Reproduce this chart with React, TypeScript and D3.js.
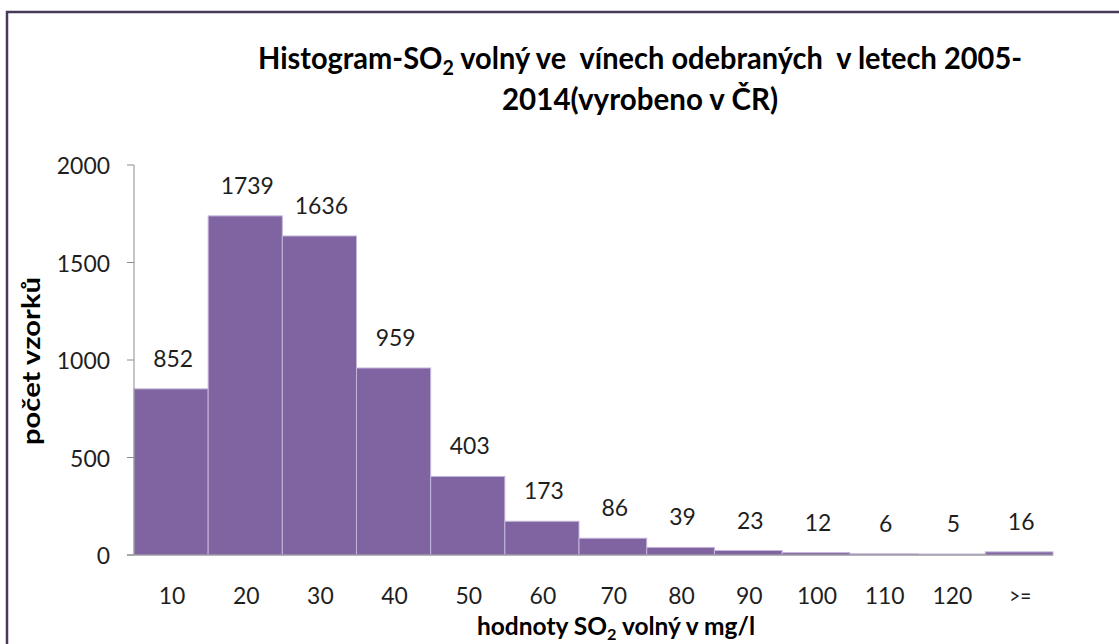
import React, { useLayoutEffect, useRef, useState } from "react";
import * as d3 from "d3";

const categories = ["10", "20", "30", "40", "50", "60", "70", "80", "90", "100", "110", "120", ">="];
const counts = [852, 1739, 1636, 959, 403, 173, 86, 39, 23, 12, 6, 5, 16];
const yTicks = [0, 500, 1000, 1500, 2000];

const W = 1119;
const H = 644;
const FONT = "Lato, 'Open Sans', sans-serif";

export default function App() {
  const xs = d3.scaleLinear().domain([0, 6, categories.length]).range([134, 579, 1053]);
  const y = d3.scaleLinear().domain([0, 2000]).range([555, 165]);
  const textColor = "#1e1e1e";

  const t1 = useRef<SVGTextElement>(null);
  const t2 = useRef<SVGTextElement>(null);
  const xt = useRef<SVGTextElement>(null);
  const [sc, setSc] = useState({ a: 0.85, b: 0.85, c: 0.85 });
  useLayoutEffect(() => {
    const w1 = t1.current ? t1.current.getBBox().width : 0;
    const w2 = t2.current ? t2.current.getBBox().width : 0;
    const w3 = xt.current ? xt.current.getBBox().width : 0;
    setSc({ a: w1 ? 764 / w1 : 0.85, b: w2 ? 276 / w2 : 0.85, c: w3 ? 278 / w3 : 0.85 });
  }, []);

  return (
    <svg width={W} height={H} style={{ position: "absolute", left: 0, top: 0, background: "#fff" }}>
      <rect x={7} y={12} width={1300} height={800} fill="#fff" stroke="#463a58" strokeWidth={2.5} />

      {/* Title */}
      <g transform={`translate(640,69) scale(${sc.a},1)`}>
        <text ref={t1} x={0} y={0} textAnchor="middle" fontFamily={FONT} fontWeight="bold" fontSize={31} fill="#000"
          style={{ whiteSpace: "pre" }}>
          Histogram-SO<tspan fontSize={21} dy={6}>2</tspan><tspan dy={-6}>{" volný ve  vínech odebraných  v letech 2005-"}</tspan>
        </text>
      </g>
      <g transform={`translate(640,110) scale(${sc.b},1)`}>
        <text ref={t2} x={0} y={0} textAnchor="middle" fontFamily={FONT} fontWeight="bold" fontSize={31} fill="#000">
          2014(vyrobeno v ČR)
        </text>
      </g>

      {/* Bars */}
      {counts.map((v, i) => (
        <rect key={i} x={xs(i)} y={y(v)} width={xs(i + 1) - xs(i)} height={y(0) - y(v)}
          fill="#8064a2" stroke="#c4b6da" strokeWidth={1} />
      ))}

      {/* Y axis */}
      <line x1={134} x2={134} y1={y(2000)} y2={y(0)} stroke="#8c8c8c" strokeWidth={1} />
      {yTicks.map((t) => (
        <g key={t}>
          <line x1={127} x2={134} y1={y(t)} y2={y(t)} stroke="#8c8c8c" strokeWidth={1} />
          <text x={110} y={y(t) + 9} textAnchor="end" fontFamily={FONT} fontSize={24} fill={textColor}
            textLength={String(t).length * 13.3} lengthAdjust="spacingAndGlyphs">{t}</text>
        </g>
      ))}
      <line x1={127} x2={xs(categories.length)} y1={y(0)} y2={y(0)} stroke="#8c8c8c" strokeWidth={1.2} />

      {/* X tick labels */}
      {categories.map((c, i) => (
        <text key={c} x={(xs(i) + xs(i + 1)) / 2 + 1} y={604} textAnchor="middle" fontFamily={FONT} fontSize={24} fill={textColor}
          textLength={c === ">=" ? 22 : c.length * 13.3} lengthAdjust="spacingAndGlyphs">{c}</text>
      ))}

      {/* Value labels */}
      {counts.map((v, i) => (
        <text key={i} x={(xs(i) + xs(i + 1)) / 2 + 2} y={y(v) - 22} textAnchor="middle" fontFamily={FONT} fontSize={24} fill={textColor}
          textLength={String(v).length * 13.3} lengthAdjust="spacingAndGlyphs">{v}</text>
      ))}

      {/* Axis titles */}
      <text transform={`translate(40,361) rotate(-90)`} textAnchor="middle" fontFamily={FONT} fontWeight="bold" fontSize={24} fill="#000"
        textLength={168} lengthAdjust="spacingAndGlyphs">počet vzorků</text>
      <g transform={`translate(616,635) scale(${sc.c},1)`}>
        <text ref={xt} x={0} y={0} textAnchor="middle" fontFamily={FONT} fontWeight="bold" fontSize={24} fill="#000">
          hodnoty SO<tspan fontSize={16} dy={5}>2</tspan><tspan dy={-5}> volný v mg/l</tspan>
        </text>
      </g>
    </svg>
  );
}
